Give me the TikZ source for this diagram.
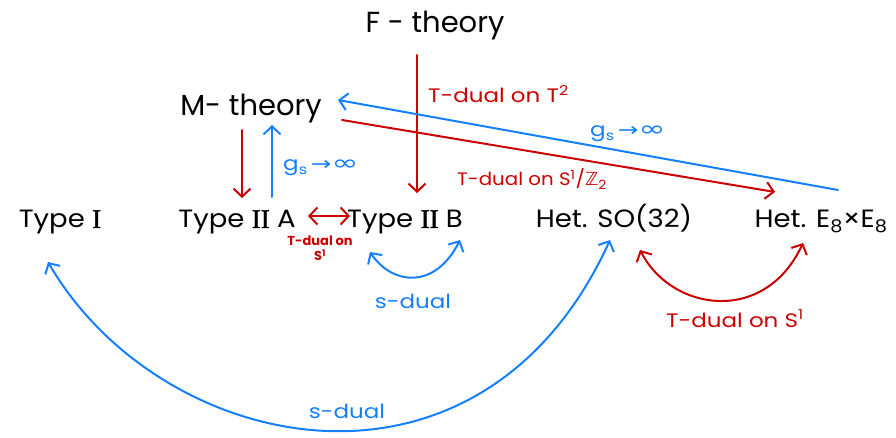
\documentclass[tikz,border=0pt]{standalone}
\usepackage{fontspec}
\setmainfont{Poppins}
\newfontfamily\wideA{Poppins}[FakeStretch=1.1]
\newfontfamily\wideB{Poppins}[FakeStretch=1.18]
\newfontfamily\symfont{DejaVu Sans}
\newfontfamily\romfont{Liberation Serif}[FakeBold=1.5]
\usetikzlibrary{arrows.meta,calc}
\definecolor{myred}{RGB}{204,0,0}
\definecolor{myblue}{RGB}{20,128,255}
\newcommand{\gsinf}{g\textsubscript{s}\,{\symfont\fontsize{19}{20}\selectfont\scalebox{1.3}[1]{→}\scalebox{1.7}[1.15]{∞}}}
\newcommand{\romI}{{\romfont\fontsize{27}{30}\selectfont I}}
\newcommand{\romII}{{\romfont\fontsize{27}{30}\selectfont II}}
\tikzset{
  theory/.style={font=\wideA\fontsize{25}{30}\selectfont, inner sep=0pt, anchor=base},
  bigtheory/.style={font=\fontsize{29}{34}\selectfont, inner sep=0pt, anchor=base},
  lab/.style={font=\wideB\fontsize{19.5}{22}\selectfont, inner sep=0pt, anchor=base west},
  smalllab/.style={font=\fontsize{13}{15}\selectfont\bfseries, inner sep=0pt, anchor=north, align=center},
  conn/.style={line width=2pt, line cap=round, line join=round,
    -{Straight Barb[length=8pt,width=17pt,line width=2pt]}},
  bothconn/.style={line width=2pt, line cap=round, line join=round,
    {Straight Barb[length=8pt,width=17pt,line width=2pt]}-{Straight Barb[length=8pt,width=17pt,line width=2pt]}},
}
\begin{document}
\begin{tikzpicture}[x=1pt,y=-1pt]
\useasboundingbox (0,0) rectangle (896,438);
% theories
\node[bigtheory] (F) at (435,33) {F - theory};
\node[bigtheory] (M) at (251,116) {M- theory};
\node[theory] (TI) at (60,228) {Type \romI};
\node[theory] (IIA) at (237,228) {Type \romII\ A};
\node[theory] (IIB) at (405,228) {Type \romII\ B};
\node[theory] (SO) at (614,228) {Het. SO(32)};
\node[theory] (E8) at (821,228) {Het. E\textsubscript{8}×E\textsubscript{8}};
% labels
\node[lab, text=myred] (lT2) at (428,103) {T-dual on T\textsuperscript{2}};
\node[lab, text=myblue] (lg1) at (283,171) {\gsinf};
\node[lab, text=myblue] (lg2) at (590,137) {\gsinf};
\node[lab, text=myred, font=\wideA\fontsize{18}{22}\selectfont] (lZ) at (457,186) {T-dual on S\textsuperscript{1}/{\symfont ℤ}\textsubscript{2}};
\node[smalllab, text=myred] (lS1) at (320,236) {T-dual on\\S\textsuperscript{1}};
\node[lab, anchor=base, text=myblue] (ls1) at (413,308) {s-dual};
\node[lab, anchor=base, text=myblue] (ls2) at (347,418) {s-dual};
\node[lab, anchor=base, text=myred] (lS1b) at (735,327) {T-dual on S\textsuperscript{1}};
% connectors
\draw[conn, myred] ($(F.base)+(-18,22)$) -- ($(IIB.base)+(12,-35)$);
\draw[conn, myred] ($(M.base)+(-9,14)$) -- ($(IIA.base)+(5,-30)$);
\draw[conn, myblue] ($(IIA.base)+(35,-31)$) -- ($(M.base)+(21,9)$);
\draw[bothconn, myred] ($(IIA.base)+(71,-12)$) -- ($(IIB.base)+(-55,-12)$);
\draw[conn, myred] ($(M.base)+(91,4)$) -- ($(E8.base)+(-46,-36)$);
\draw[conn, myblue] ($(E8.base)+(17,-38)$) -- ($(M.base)+(87,-16)$);
\draw[bothconn, myblue] ($(IIB.base)+(-35,24)$) .. controls (392,285) and (435,290) .. ($(IIB.base)+(55,12)$);
\draw[bothconn, myblue] ($(TI.base)+(-12,34)$) .. controls (160,455) and (480,525) .. ($(SO.base)+(-4,12)$);
\draw[bothconn, myred] ($(SO.base)+(26,22)$) .. controls (672,312) and (765,325) .. ($(E8.base)+(-18,15)$);
\end{tikzpicture}
\end{document}
